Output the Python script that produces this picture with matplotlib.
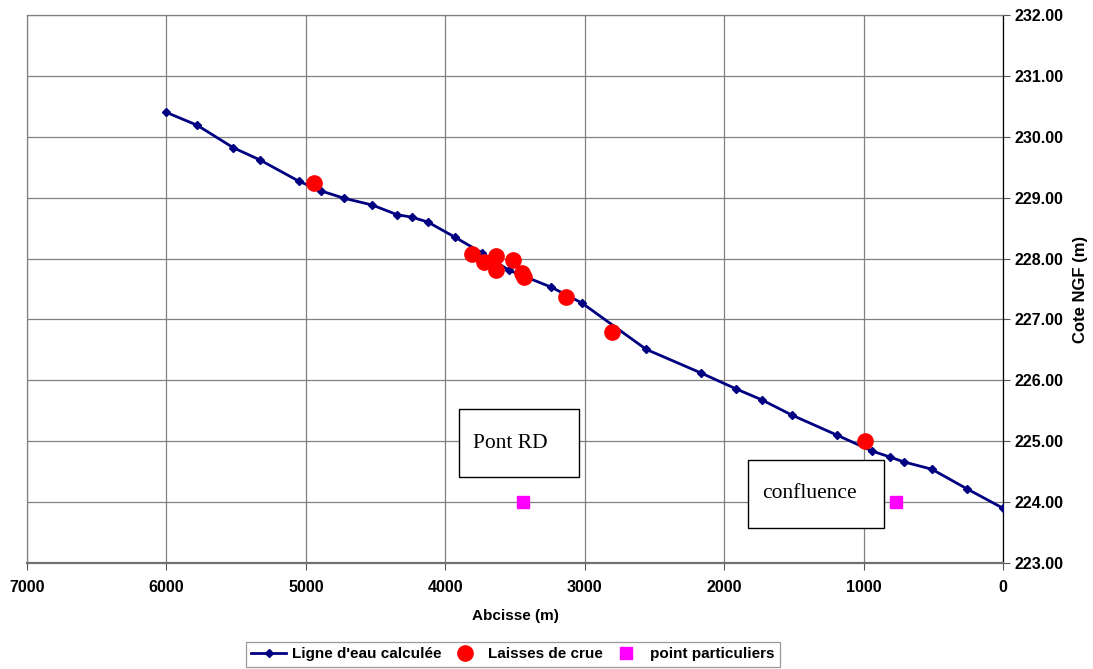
import matplotlib
matplotlib.use("Agg")
import matplotlib.pyplot as plt
from matplotlib.patches import Rectangle

# ---------------- DATA ----------------
# computed water line (abscissa in m, elevation NGF in m)
ligne_x = [6000, 5780, 5520, 5330, 5050, 4890, 4725, 4525, 4345, 4240, 4125,
           3930, 3735, 3545, 3240, 3020, 2560, 2165, 1915, 1730, 1515, 1190,
           940, 810, 710, 510, 260, 0]
ligne_y = [230.40, 230.19, 229.82, 229.62, 229.27, 229.11, 228.99, 228.88,
           228.72, 228.68, 228.60, 228.35, 228.09, 227.81, 227.53, 227.27,
           226.51, 226.12, 225.86, 225.68, 225.43, 225.10, 224.84, 224.74,
           224.66, 224.54, 224.22, 223.90]

# flood marks
laisses_x = [4940, 3805, 3720, 3635, 3635, 3515, 3448, 3433, 3135, 2805, 990]
laisses_y = [229.24, 228.07, 227.94, 228.05, 227.81, 227.98, 227.77, 227.69,
             227.37, 226.80, 225.00]

# special points
points_x = [3443, 767]
points_y = [224.00, 224.00]

# annotation boxes: label, x0, x1, y0, y1 (data units)
boxes = [("Pont RD", 3900, 3040, 224.41, 225.53),
         ("confluence", 1830, 853, 223.58, 224.69)]
# --------------------------------------

fig = plt.figure(figsize=(10.93, 6.69), dpi=100)
ax = fig.add_axes([0.0247, 0.1584, 0.893, 0.8192])

ax.plot(ligne_x, ligne_y, color="#000080", lw=2, marker="D", ms=4.5,
        label="Ligne d'eau calculée", zorder=3)
ax.plot(laisses_x, laisses_y, ls="none", marker="o", ms=11, color="#ff0000",
        label="Laisses de crue", zorder=4)
ax.plot(points_x, points_y, ls="none", marker="s", ms=8, color="#ff00ff",
        label="point particuliers", zorder=4)

for txt, x0, x1, y0, y1 in boxes:
    ax.add_patch(Rectangle((x1, y0), x0 - x1, y1 - y0, facecolor="white",
                           edgecolor="black", lw=1, zorder=5))
    # text sits a bit in from the left edge of each box
    ax.text(x0 - 100, (y0 + y1) / 2 + 0.0, txt, family="Liberation Serif",
            fontsize=15.5, ha="left", va="center", zorder=6)

ax.set_xlim(7000, 0)
ax.set_ylim(223, 232)
ax.set_xticks(range(0, 7001, 1000))
ax.set_yticks(range(223, 233))
ax.set_yticklabels([f"{v:.2f}" for v in range(223, 233)])

ax.yaxis.tick_right()
ax.yaxis.set_label_position("right")
ax.grid(True, color="#808080", lw=0.9)
ax.set_axisbelow(True)

for s in ["top", "left"]:
    ax.spines[s].set_color("#808080")
    ax.spines[s].set_linewidth(0.9)
ax.spines["bottom"].set_color("#707070")
ax.spines["bottom"].set_linewidth(1.6)
ax.spines["right"].set_color("black")
ax.spines["right"].set_linewidth(0.9)

ax.tick_params(axis="both", labelsize=11.5, length=5, width=0.8,
               color="#555555")
ax.tick_params(axis="x", pad=7)
ax.tick_params(axis="y", pad=3)
for lab in ax.get_xticklabels() + ax.get_yticklabels():
    lab.set_fontweight("bold")
    lab.set_family("Liberation Sans")

ax.set_xlabel("Abcisse (m)", fontsize=11, fontweight="bold",
              family="Liberation Sans", labelpad=10)
ax.set_ylabel("Cote NGF (m)", fontsize=12, fontweight="bold",
              family="Liberation Sans", labelpad=7)

leg = fig.legend(loc="center", bbox_to_anchor=(0.469, 0.022), ncol=3,
                 frameon=True, fancybox=False, edgecolor="#808080",
                 prop={"family": "Liberation Sans", "weight": "bold",
                       "size": 11},
                 handlelength=2.3, columnspacing=0.35, borderpad=0.35,
                 handletextpad=0.4, borderaxespad=0)
leg.get_frame().set_linewidth(0.9)

fig.savefig("out.png", dpi=100)
